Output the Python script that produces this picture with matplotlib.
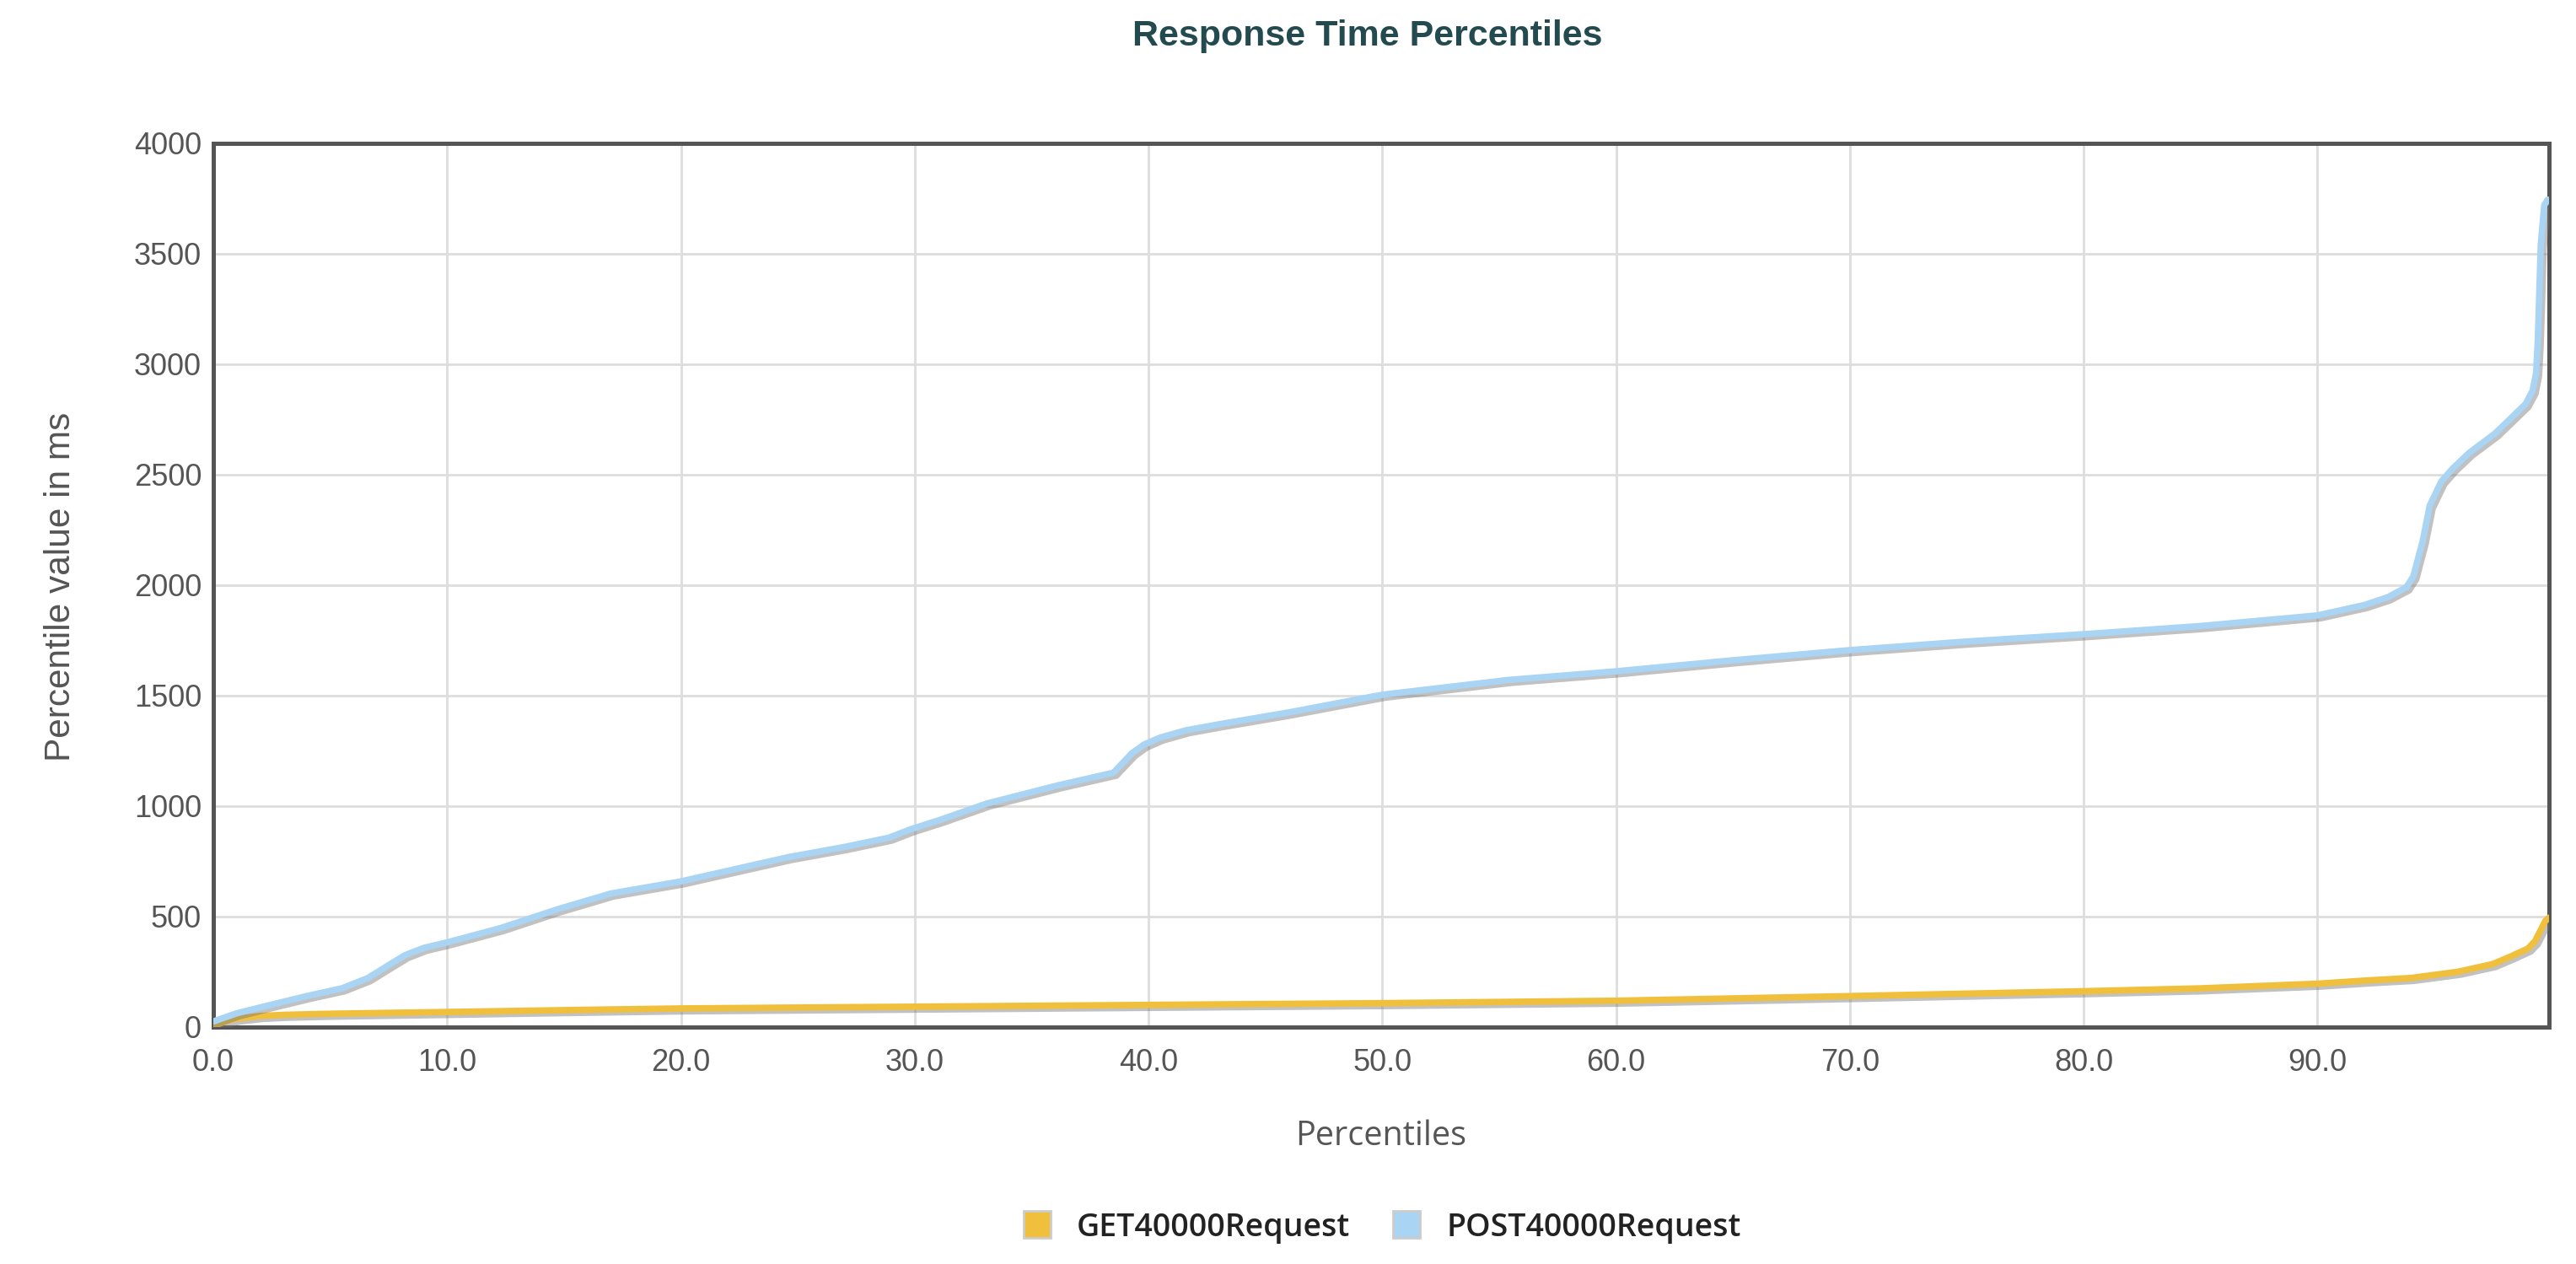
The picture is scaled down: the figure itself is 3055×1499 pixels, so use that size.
import matplotlib
matplotlib.use("Agg")
import matplotlib.pyplot as plt
import matplotlib.patheffects as pe
from matplotlib.lines import Line2D

# 数据：百分位曲线
post_pct = [0, 1, 2.6, 4, 5.5, 6.6, 7.5, 8.2, 9, 10, 12.3, 14.7, 17, 20, 24.6,
            27, 28.9, 29.8, 31.1, 33.1, 36.1, 38.5, 39.3, 39.8, 40.5, 41.6, 43, 46,
            50, 55.4, 60, 65, 70, 75, 80, 85, 90, 92, 93, 93.8, 94.1, 94.5, 94.8,
            95.3, 95.8, 96.5, 97.6, 98.9, 99.2, 99.35, 99.42, 99.48, 99.55, 99.7,
            99.85]
post_ms = [25, 62, 104, 140, 175, 221, 280, 325, 358, 383, 448, 532, 604, 659, 769,
           815, 857, 894, 938, 1012, 1093, 1151, 1240, 1278, 1310, 1343, 1370, 1424,
           1504, 1571, 1610, 1660, 1706, 1745, 1778, 1815, 1863, 1910, 1945, 1990,
           2040, 2200, 2360, 2470, 2530, 2600, 2687, 2820, 2880, 2960, 3100, 3300,
           3540, 3720, 3745]

get_pct = [0, 0.5, 1, 2, 3, 5, 10, 16, 20, 30, 40, 50, 60, 70, 80, 85, 90, 92,
           94, 96, 97.5, 98.3, 99, 99.3, 99.6, 99.75, 99.9]
get_ms = [5, 25, 38, 50, 55, 60, 68, 78, 84, 92, 100, 108, 119, 140, 162, 175, 196, 210,
          222, 250, 285, 321, 355, 388, 450, 481, 495]

series_names = ["GET40000Request", "POST40000Request"]
series_colors = ["#F0C03C", "#A9D4F4"]
x_ticks = [0, 10, 20, 30, 40, 50, 60, 70, 80, 90]
y_ticks = [0, 500, 1000, 1500, 2000, 2500, 3000, 3500, 4000]

fig = plt.figure(figsize=(30.55, 14.99), dpi=100)
ax = fig.add_axes([0.0828, 0.1875, 0.9067, 0.6991])

shadow = [pe.SimpleLineShadow(offset=(2.5, -2.5), shadow_color="#777777", alpha=0.45),
          pe.Normal()]
ax.plot(get_pct, get_ms, color=series_colors[0], lw=5.5, solid_capstyle="round",
        solid_joinstyle="round", path_effects=shadow, zorder=3)
ax.plot(post_pct, post_ms, color=series_colors[1], lw=5.5, solid_capstyle="round",
        solid_joinstyle="round", path_effects=shadow, zorder=3)

ax.set_xlim(0, 99.9)
ax.set_ylim(0, 4000)
ax.set_xticks(x_ticks)
ax.set_xticklabels([f"{v:.1f}" for v in x_ticks])
ax.set_yticks(y_ticks)
ax.tick_params(length=0, labelsize=26, labelcolor="#555555")
ax.tick_params(axis="x", pad=18)
ax.tick_params(axis="y", pad=10)
for lbl in ax.get_xticklabels() + ax.get_yticklabels():
    lbl.set_family("Liberation Sans")
ax.grid(True, color="#dddddd", lw=2)
ax.set_axisbelow(True)
for s in ax.spines.values():
    s.set_color("#555555")
    s.set_linewidth(3.6)

fig.text(0.531, 0.971, "Response Time Percentiles", ha="center", va="center",
         fontsize=31, fontweight="bold", color="#234B4F", family="Liberation Sans")
fig.text(0.536, 0.1007, "Percentiles", ha="center", va="center",
         fontsize=28.5, color="#555555", family="Open Sans")
fig.text(0.0235, 0.536, "Percentile value in ms", ha="center", va="center",
         rotation=90, fontsize=30.5, color="#555555", family="Liberation Sans")

handles = [Line2D([], [], marker="s", linestyle="none", markersize=23,
                  markerfacecolor=c, markeredgecolor="#cccccc", markeredgewidth=2)
           for c in series_colors]
fig.legend(handles, series_names, loc="center", bbox_to_anchor=(0.533, 0.029),
           ncol=2, frameon=False,
           prop={"family": "Open Sans", "size": 27, "weight": "semibold"},
           labelcolor="#222222", handletextpad=0.25, columnspacing=0.8)

fig.savefig("out.png", dpi=100)
